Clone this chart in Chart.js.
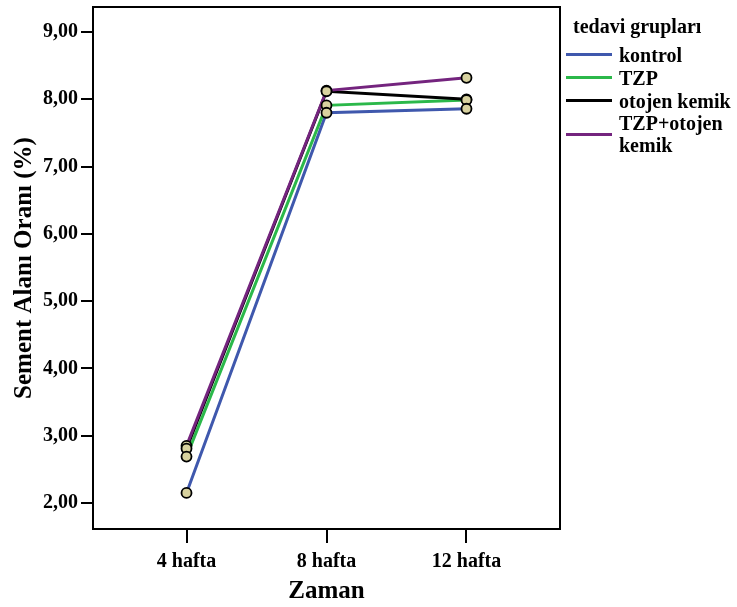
<!DOCTYPE html>
<html lang="tr">
<head>
<meta charset="UTF-8" />
<title>Sement Alanı Oranı</title>
<script src="https://cdn.jsdelivr.net/npm/chart.js"></script>
<style>
  body { margin: 0; background: #fff; }
  #wrap { position: relative; width: 737px; height: 607px; }
  #chart { position: absolute; left: 0; top: 0; }
  #legend { position: absolute; left: 566px; top: 12px; font: bold 20px "Liberation Serif", serif; color: #000; }
  #legend .title { margin-left: 7px; height: 31px; line-height: 28px; }
  #legend .item { display: flex; align-items: center; min-height: 23px; }
  #legend .line { width: 46px; height: 3px; margin-right: 7px; flex: none; }
  #legend .txt { line-height: 22px; }
</style>
</head>
<body>
<div id="wrap">
  <canvas id="chart" width="737" height="607"></canvas>
  <div id="legend"></div>
</div>
<script>
  var timeLabels = ['4 hafta', '8 hafta', '12 hafta'];
  var groups = ['kontrol', 'TZP', 'otojen kemik', 'TZP+otojen kemik'];
  var kontrol = [2.15, 7.80, 7.86];
  var tzp = [2.69, 7.91, 7.99];
  var otojen = [2.81, 8.12, 8.00];
  var tzpOtojen = [2.85, 8.13, 8.32];
  var yTicks = [2, 3, 4, 5, 6, 7, 8, 9];

  var colors = ['#3f58ad', '#2bb84a', '#000000', '#74247e'];
  var series = [kontrol, tzp, otojen, tzpOtojen];
  var serif = '"Liberation Serif", "DejaVu Serif", serif';

  function pts(arr) {
    return arr.map(function (v, i) { return { x: i + 1, y: v }; });
  }

  var datasets = [];
  series.forEach(function (s, i) {
    datasets.push({
      label: groups[i],
      data: pts(s),
      borderColor: colors[i],
      borderWidth: 3,
      pointRadius: 0,
      fill: false,
      tension: 0,
      order: 5 - i
    });
  });
  // markers on top of all lines
  series.forEach(function (s, i) {
    datasets.push({
      label: groups[i] + ' markers',
      data: pts(s),
      showLine: false,
      pointRadius: 5,
      pointBackgroundColor: '#d8d29f',
      pointBorderColor: '#000',
      pointBorderWidth: 1.8,
      order: 0
    });
  });

  var boxPlugin = {
    id: 'box',
    afterDatasetsDraw: function (chart) {
      var a = chart.chartArea, c = chart.ctx;
      c.save();
      c.strokeStyle = '#000';
      c.lineWidth = 2;
      c.strokeRect(a.left, a.top, a.right - a.left, a.bottom - a.top);
      c.restore();
    }
  };

  new Chart(document.getElementById('chart'), {
    type: 'line',
    data: { datasets: datasets },
    plugins: [boxPlugin],
    options: {
      responsive: false,
      animation: false,
      layout: { padding: { left: 0, top: 7, right: 177, bottom: 0 } },
      plugins: { legend: { display: false }, tooltip: { enabled: false } },
      scales: {
        x: {
          type: 'linear',
          min: 0.332,
          max: 3.668,
          afterBuildTicks: function (scale) {
            scale.ticks = timeLabels.map(function (t, i) { return { value: i + 1 }; });
          },
          afterFit: function (scale) {
            scale.height = 78;
            scale.paddingLeft = 0;
            scale.paddingRight = 0;
          },
          ticks: {
            callback: function (v) { return timeLabels[v - 1]; },
            color: '#000',
            font: { family: serif, size: 20, weight: 'bold' },
            padding: 7,
            maxRotation: 0
          },
          grid: { drawOnChartArea: false, drawTicks: true, tickLength: 14, color: '#000', lineWidth: 2 },
          border: { display: false },
          title: {
            display: true,
            text: 'Zaman',
            color: '#000',
            font: { family: serif, size: 25, weight: 'bold' },
            padding: { top: 0, bottom: 0 }
          }
        },
        y: {
          min: 1.614,
          max: 9.372,
          afterBuildTicks: function (scale) {
            scale.ticks = yTicks.map(function (v) { return { value: v }; });
          },
          afterFit: function (scale) {
            scale.width = 93;
            scale.paddingTop = 0;
            scale.paddingBottom = 0;
          },
          ticks: {
            callback: function (v) { return v.toFixed(2).replace('.', ','); },
            color: '#000',
            font: { family: serif, size: 20, weight: 'bold' },
            padding: 3
          },
          grid: { drawOnChartArea: false, drawTicks: true, tickLength: 12, color: '#000', lineWidth: 2 },
          border: { display: false },
          title: {
            display: true,
            text: 'Sement Alanı Oranı (%)',
            color: '#000',
            font: { family: serif, size: 25, weight: 'bold' },
            padding: { top: 10, bottom: 0 }
          }
        }
      }
    }
  });

  var legend = document.getElementById('legend');
  var html = '<div class="title">tedavi grupları</div>';
  var legendText = ['kontrol', 'TZP', 'otojen kemik', 'TZP+otojen<br>kemik'];
  groups.forEach(function (g, i) {
    html += '<div class="item"><span class="line" style="background:' + colors[i] + '"></span><span class="txt">' + legendText[i] + '</span></div>';
  });
  legend.innerHTML = html;
</script>
</body>
</html>
